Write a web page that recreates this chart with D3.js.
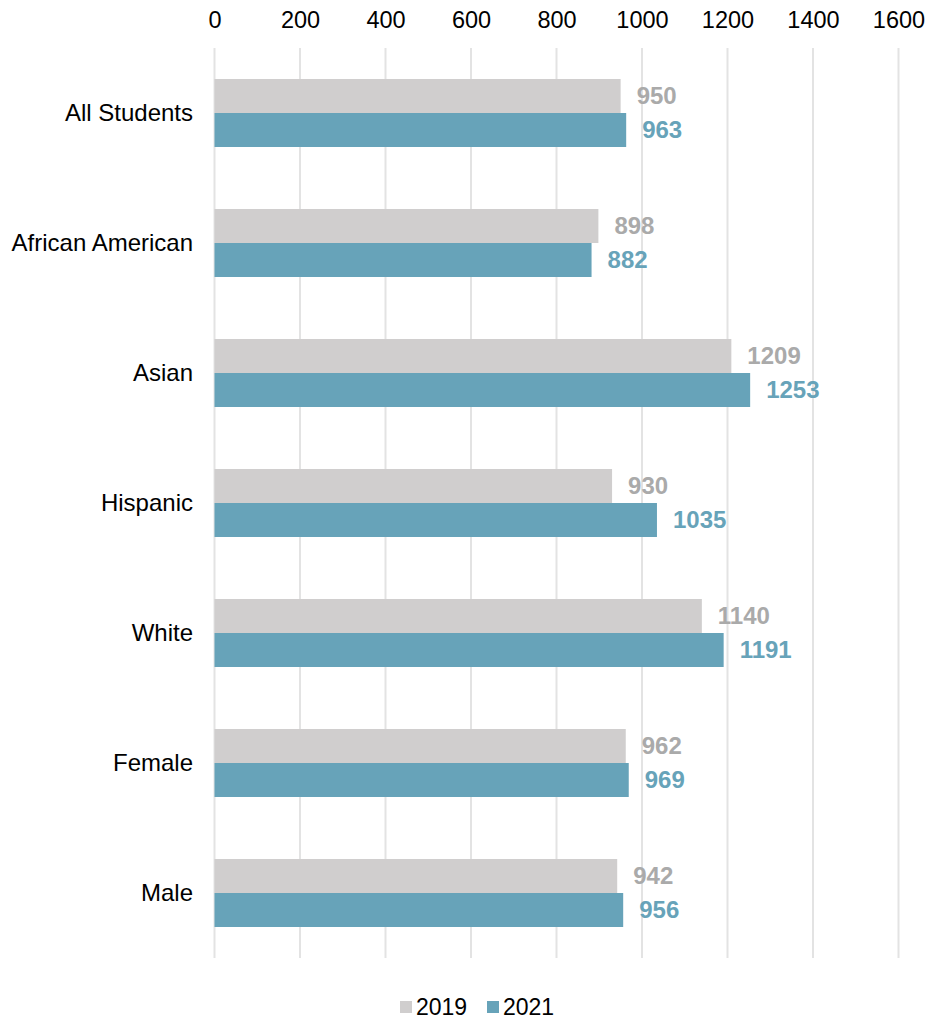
<!DOCTYPE html>
<html><head><meta charset="utf-8">
<script src="https://cdn.jsdelivr.net/npm/d3@7"></script>
<style>body{margin:0;background:#fff;} text{font-family:"Liberation Sans",Arial,sans-serif;}</style>
</head><body>
<svg id="c" width="928" height="1019"></svg>
<script>
const categories = ["All Students","African American","Asian","Hispanic","White","Female","Male"];
const values2019 = [950,898,1209,930,1140,962,942];
const values2021 = [963,882,1253,1035,1191,969,956];
const seriesNames = ["2019","2021"];
const tickValues = [0,200,400,600,800,1000,1200,1400,1600];
const colors = {"2019":"#d0cece","2021":"#67a3b9"};
const labelColors = {"2019":"#aaaaaa","2021":"#67a3b9"};

const svg = d3.select("#c");
const x = d3.scaleLinear().domain([0,1600]).range([214.5,898.5]);
const y = d3.scaleBand().domain(categories).range([48,958]);
const sub = d3.scaleBand().domain(seriesNames).range([0,68]);

// grid
svg.append("g").selectAll("line").data(tickValues).join("line")
  .attr("x1",d=>x(d)).attr("x2",d=>x(d)).attr("y1",48).attr("y2",958)
  .attr("stroke","#e3e3e3").attr("stroke-width",2);

// top axis labels
const ax = svg.append("g").attr("transform","translate(0,28)")
  .call(d3.axisTop(x).tickValues(tickValues).tickSize(0).tickPadding(0).tickFormat(d3.format("d")));
ax.select(".domain").remove();
ax.selectAll("text").attr("font-size",23.5).attr("fill","#000").attr("dy","0.35em").attr("y",-8)
  .style("font-family","'Liberation Sans',Arial,sans-serif");

// category labels
svg.append("g").selectAll("text").data(categories).join("text")
  .attr("x",193).attr("y",d=>y(d)+y.bandwidth()/2).attr("dy","0.35em")
  .attr("text-anchor","end").attr("font-size",24).attr("fill","#000").text(d=>d);

const rows = categories.map((c,i)=>({cat:c, vals:[{s:"2019",v:values2019[i]},{s:"2021",v:values2021[i]}]}));
const g = svg.append("g").selectAll("g").data(rows).join("g")
  .attr("transform",d=>`translate(0,${y(d.cat)+y.bandwidth()/2-34})`);
g.selectAll("rect").data(d=>d.vals).join("rect")
  .attr("x",x(0)).attr("y",d=>sub(d.s)).attr("width",d=>x(d.v)-x(0)).attr("height",sub.bandwidth())
  .attr("fill",d=>colors[d.s]);
g.selectAll("text").data(d=>d.vals).join("text")
  .attr("x",d=>x(d.v)+16).attr("y",d=>sub(d.s)+sub.bandwidth()/2).attr("dy","0.35em")
  .attr("font-size",24).attr("font-weight","bold").attr("fill",d=>labelColors[d.s]).text(d=>d.v);

// legend
const leg = svg.append("g").attr("transform","translate(0,1007)");
const legItems = [{s:"2019",x:400},{s:"2021",x:487}];
leg.selectAll("rect").data(legItems).join("rect")
  .attr("x",d=>d.x).attr("y",-6).attr("width",12).attr("height",12).attr("fill",d=>colors[d.s]);
leg.selectAll("text").data(legItems).join("text")
  .attr("x",d=>d.x+16).attr("y",0).attr("dy","0.35em").attr("font-size",23).attr("fill","#000").text(d=>d.s);
</script>
</body></html>
